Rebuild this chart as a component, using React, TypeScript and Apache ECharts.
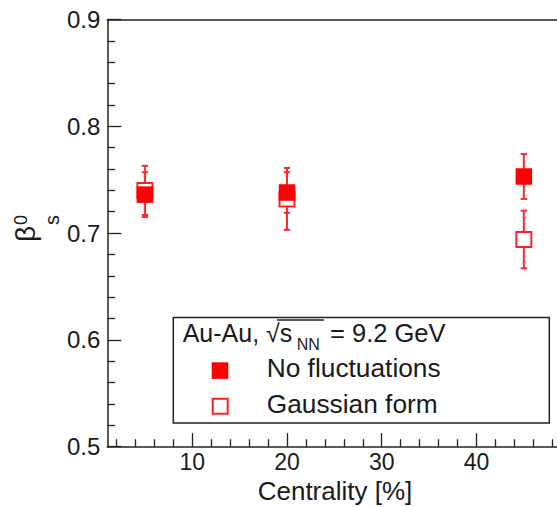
import React, { useEffect, useRef } from "react";
import * as echarts from "echarts";

const centrality = [5, 20, 45];
const noFluctValues = [0.736, 0.738, 0.753];
const noFluctErrors = [0.021, 0.019, 0.021];
const gaussValues = [0.74, 0.732, 0.694];
const gaussErrors = [0.023, 0.029, 0.027];
const xMajorTicks = [10, 20, 30, 40];
const xMinorTicks = [2, 4, 6, 8, 12, 14, 16, 18, 22, 24, 26, 28, 32, 34, 36, 38, 42, 44, 46, 48];
const yMin = 0.5;
const yMax = 0.9;
const xMin = 1.03;
const xMax = 48.5;
const legendTitle = "Au-Au, \u221As";
const legendSub = "NN";
const legendTitleEnd = "= 9.2 GeV";
const legendNames = ["No fluctuations", "Gaussian form"];
const xTitle = "Centrality [%]";

const FONT = "'Liberation Sans', Arial, Helvetica, sans-serif";
const TXT = "#1a1a1a";
const AX = "#222";
const RED = "#ff0000";

function errData(vals: number[], errs: number[]) {
  return centrality.map((x, i) => [x, vals[i], errs[i]]);
}

function errRender(color: string) {
  return (params: any, api: any) => {
    const x = api.value(0);
    const y = api.value(1);
    const e = api.value(2);
    const top = api.coord([x, y + e]);
    const bot = api.coord([x, y - e]);
    const cw = 3.2;
    const st = { stroke: color, lineWidth: 2 };
    return {
      type: "group",
      children: [
        { type: "line", shape: { x1: top[0], y1: top[1], x2: bot[0], y2: bot[1] }, style: st },
        { type: "line", shape: { x1: top[0] - cw, y1: top[1], x2: top[0] + cw, y2: top[1] }, style: st },
        { type: "line", shape: { x1: bot[0] - cw, y1: bot[1], x2: bot[0] + cw, y2: bot[1] }, style: st },
      ],
    };
  };
}

export default function App() {
  const ref = useRef<HTMLDivElement>(null);
  useEffect(() => {
    if (!ref.current) return;
    const chart = echarts.init(ref.current, null, { renderer: "svg" });
    const option: any = {
      animation: false,
      backgroundColor: "#fff",
      grid: { left: 107.3, right: 0, top: 19.5, bottom: 60.3, containLabel: false },
      xAxis: [
        {
          type: "value",
          position: "bottom",
          min: xMin,
          max: xMax,
          axisLine: { show: true, onZero: false, lineStyle: { color: AX, width: 1.5 } },
          axisTick: { show: true, inside: true, length: 7.5, customValues: xMinorTicks, lineStyle: { color: AX, width: 1.3 } },
          axisLabel: { show: false },
          splitLine: { show: false },
        },
        {
          type: "value",
          position: "bottom",
          min: xMin,
          max: xMax,
          axisLine: { show: false, onZero: false },
          axisTick: { show: true, inside: true, length: 13.5, customValues: xMajorTicks, lineStyle: { color: AX, width: 1.3 } },
          axisLabel: {
            show: true,
            customValues: xMajorTicks,
            fontSize: 23,
            fontFamily: FONT,
            color: TXT,
            margin: 4,
          },
          splitLine: { show: false },
        },
        {
          type: "value",
          position: "top",
          min: xMin,
          max: xMax,
          axisLine: { show: true, onZero: false, lineStyle: { color: AX, width: 1.5 } },
          axisTick: { show: false },
          axisLabel: { show: false },
          splitLine: { show: false },
        },
      ],
      yAxis: {
        type: "value",
        min: yMin,
        max: yMax,
        interval: 0.1,
        axisLine: { show: true, onZero: false, lineStyle: { color: AX, width: 1.5 } },
        axisTick: { show: true, inside: true, length: 14, lineStyle: { color: AX, width: 1.3 } },
        minorTick: { show: true, splitNumber: 5, length: 7.7, lineStyle: { color: AX, width: 1.3 } },
        axisLabel: {
          fontSize: 24,
          fontFamily: FONT,
          color: TXT,
          margin: 7,
          formatter: (v: number) => v.toFixed(1),
        },
        splitLine: { show: false },
        minorSplitLine: { show: false },
      },
      series: [
        {
          type: "custom",
          name: "gaussErr",
          renderItem: errRender("#ff2a2a"),
          data: errData(gaussValues, gaussErrors),
          clip: false,
        },
        {
          type: "scatter",
          name: legendNames[1],
          symbol: "rect",
          symbolSize: 15,
          itemStyle: { color: "#fff", borderColor: "#ff2020", borderWidth: 2, opacity: 1 },
          data: centrality.map((x, i) => [x, gaussValues[i]]),
        },
        {
          type: "custom",
          name: "noFluctErr",
          renderItem: errRender("#ff2a2a"),
          data: errData(noFluctValues, noFluctErrors),
          clip: false,
        },
        {
          type: "scatter",
          name: legendNames[0],
          symbol: "rect",
          symbolSize: 16.5,
          itemStyle: { color: RED, opacity: 1 },
          data: centrality.map((x, i) => [x, noFluctValues[i]]),
        },
      ],
      graphic: [
        // axis titles
        {
          type: "text",
          x: 335,
          y: 491,
          style: { text: xTitle, fontSize: 26, fontFamily: FONT, fill: TXT, align: "center", verticalAlign: "middle" },
        },
        {
          type: "text",
          x: 25,
          y: 234,
          rotation: Math.PI / 2,
          style: { text: "\u03B2", fontSize: 28, fontFamily: FONT, fill: TXT, align: "center", verticalAlign: "middle" },
        },
        {
          type: "text",
          x: 21,
          y: 220,
          rotation: Math.PI / 2,
          style: { text: "0", fontSize: 18, fontFamily: FONT, fill: TXT, align: "center", verticalAlign: "middle" },
        },
        {
          type: "text",
          x: 52,
          y: 220,
          rotation: Math.PI / 2,
          style: { text: "s", fontSize: 20, fontFamily: FONT, fill: TXT, align: "center", verticalAlign: "middle" },
        },
        // legend box
        {
          type: "rect",
          shape: { x: 173.3, y: 317.5, width: 376, height: 105.5 },
          style: { fill: "#fff", stroke: AX, lineWidth: 1.5 },
        },
        {
          type: "text",
          x: 182.7,
          y: 332.5,
          style: { text: legendTitle, fontSize: 25, fontFamily: FONT, fill: TXT, align: "left", verticalAlign: "middle" },
        },
        {
          type: "text",
          x: 296.7,
          y: 344,
          style: { text: legendSub, fontSize: 16, fontFamily: FONT, fill: TXT, align: "left", verticalAlign: "middle" },
        },
        {
          type: "text",
          x: 330,
          y: 332.5,
          style: { text: legendTitleEnd, fontSize: 25.5, fontFamily: FONT, fill: TXT, align: "left", verticalAlign: "middle" },
        },
        {
          type: "line",
          shape: { x1: 277, y1: 320, x2: 324, y2: 320 },
          style: { stroke: AX, lineWidth: 1.5 },
        },
        {
          type: "rect",
          shape: { x: 211.7, y: 362.3, width: 16.6, height: 16.6 },
          style: { fill: RED },
        },
        {
          type: "rect",
          shape: { x: 212.7, y: 398.8, width: 15, height: 15 },
          style: { fill: "#fff", stroke: "#ff2020", lineWidth: 2 },
        },
        {
          type: "text",
          x: 266.7,
          y: 368,
          style: { text: legendNames[0], fontSize: 26.3, fontFamily: FONT, fill: TXT, align: "left", verticalAlign: "middle" },
        },
        {
          type: "text",
          x: 266.7,
          y: 403.7,
          style: { text: legendNames[1], fontSize: 26.3, fontFamily: FONT, fill: TXT, align: "left", verticalAlign: "middle" },
        },
      ],
    };
    chart.setOption(option);
    return () => chart.dispose();
  }, []);
  return (
    <div
      ref={ref}
      style={{ position: "absolute", left: 0, top: 0, width: 557, height: 507, background: "#fff" }}
    />
  );
}
